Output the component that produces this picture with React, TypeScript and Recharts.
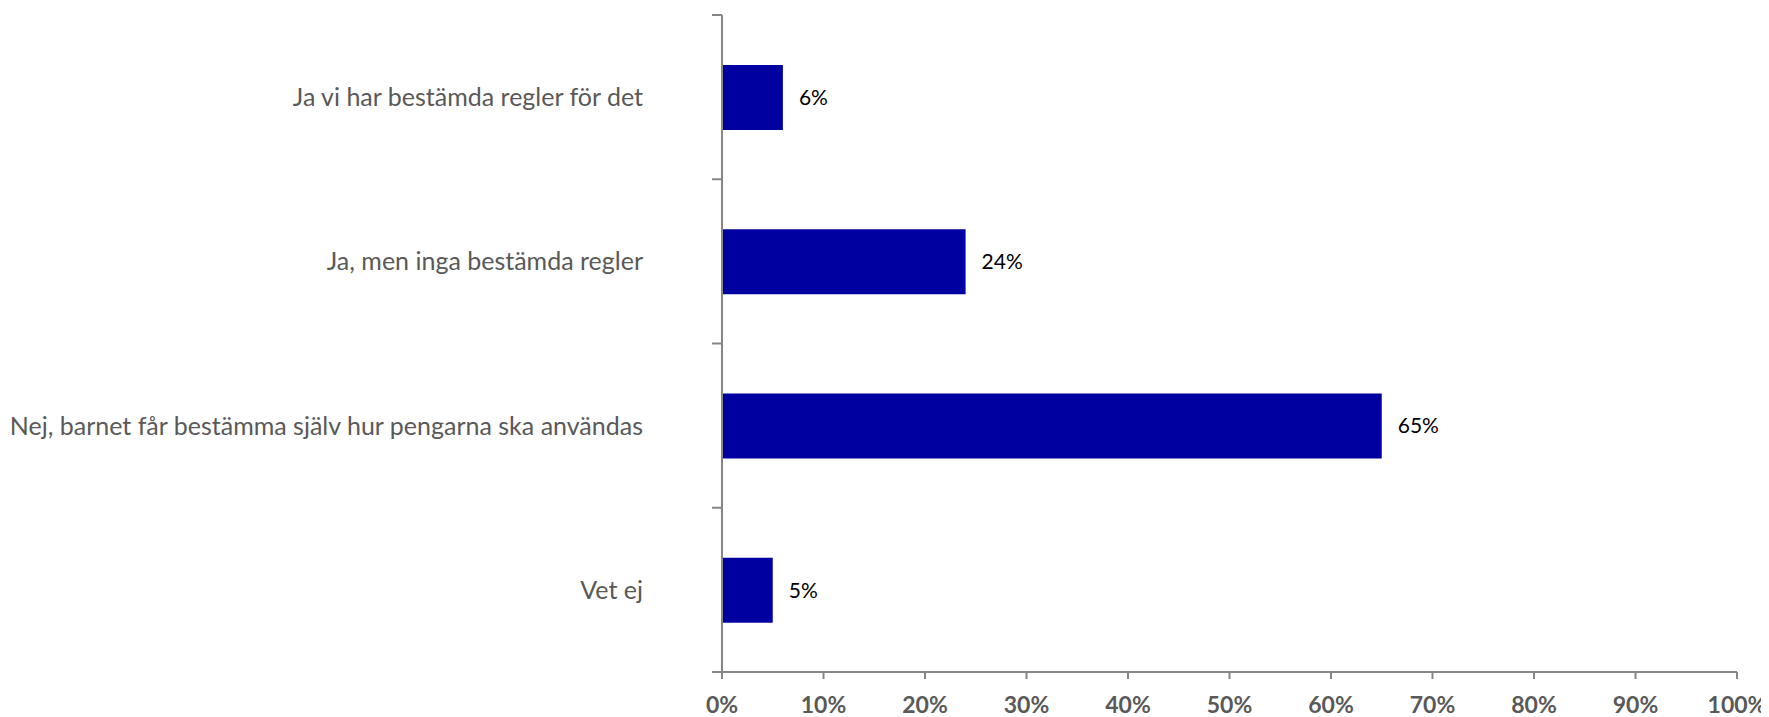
import React from "react";
import { BarChart, Bar, XAxis, YAxis, LabelList } from "recharts";

const categories = [
  "Ja vi har bestämda regler för det",
  "Ja, men inga bestämda regler",
  "Nej, barnet får bestämma själv hur pengarna ska användas",
  "Vet ej",
];
const values = [6, 24, 65, 5];
const xTicks = [0, 10, 20, 30, 40, 50, 60, 70, 80, 90, 100];

const data = categories.map((name, i) => ({ name, value: values[i] }));

const W = 1761;
const H = 709;
const M = { top: 7, right: 32, left: 0, bottom: 0 };
const Y_W = 714;
const X_H = 45;
const PLOT_H = H - M.top - M.bottom - X_H;
const BAND = PLOT_H / categories.length;
const LABEL_GAP = 79;
const AXIS_COLOR = "#868686";
const TEXT_GRAY = "#595959";
const FONT = "Lato, 'Open Sans', sans-serif";

const YTick = (props: any) => {
  const { x, y, payload, index } = props;
  const ax = x + LABEL_GAP;
  const last = index === categories.length - 1;
  return (
    <g>
      <line x1={ax - 10} x2={ax} y1={y - BAND / 2} y2={y - BAND / 2} stroke={AXIS_COLOR} strokeWidth={2} />
      {last && (
        <line x1={ax - 10} x2={ax} y1={y + BAND / 2} y2={y + BAND / 2} stroke={AXIS_COLOR} strokeWidth={2} />
      )}
      <text x={x} y={y} dy="0.36em" textAnchor="end" fill={TEXT_GRAY} fontSize={25} fontFamily={FONT}>
        {payload.value}
      </text>
    </g>
  );
};

const XTick = (props: any) => {
  const { x, y, payload } = props;
  return (
    <text x={x} y={y + 32} textAnchor="middle" fill={TEXT_GRAY} fontSize={23} fontWeight="bold" fontFamily={FONT}>
      {payload.value + "%"}
    </text>
  );
};

export default function App() {
  return (
    <BarChart width={W} height={H} data={data} layout="vertical" margin={M}>
      <XAxis
        type="number"
        domain={[0, 100]}
        ticks={xTicks}
        interval={0}
        height={X_H}
        tickSize={7}
        tickMargin={2}
        axisLine={{ stroke: AXIS_COLOR, strokeWidth: 2 }}
        tickLine={{ stroke: AXIS_COLOR, strokeWidth: 2 }}
        tick={<XTick />}
      />
      <YAxis
        type="category"
        dataKey="name"
        width={Y_W}
        tickSize={0}
        tickMargin={LABEL_GAP}
        tickLine={false}
        axisLine={{ stroke: AXIS_COLOR, strokeWidth: 2 }}
        tick={<YTick />}
        interval={0}
      />
      <Bar dataKey="value" fill="#0000A0" barSize={65} isAnimationActive={false}>
        <LabelList
          dataKey="value"
          position="right"
          offset={16}
          formatter={(v: any) => v + "%"}
          fill="#000000"
          fontSize={21}
          fontFamily={FONT}
        />
      </Bar>
    </BarChart>
  );
}
